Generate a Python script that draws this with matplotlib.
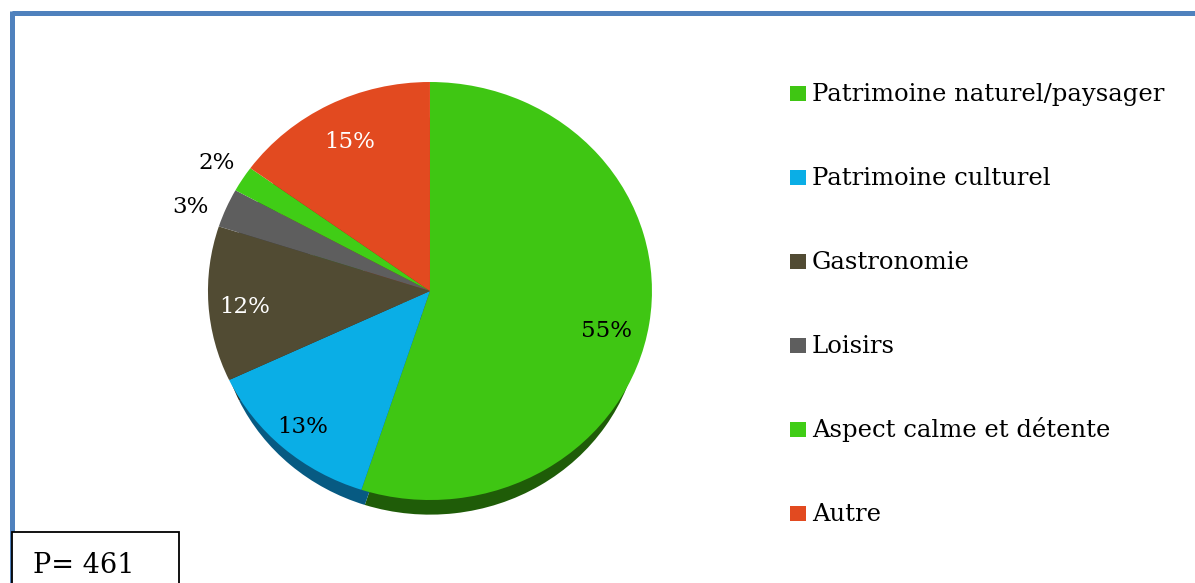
import matplotlib.pyplot as plt
from matplotlib.patches import Rectangle
from matplotlib.lines import Line2D
import numpy as np

# Données
categories = ["Patrimoine naturel/paysager", "Patrimoine culturel", "Gastronomie",
              "Loisirs", "Aspect calme et détente", "Autre"]
valeurs = [55, 13, 12, 3, 2, 15]
effectif = 461

couleurs = ["#3fc613", "#0aaee6", "#514b33", "#5e5e5e", "#40cd16", "#e24a20"]
ombres = ["#1f5c08", "#075a82", "#2c2a1c", "#333333", "#1f5c08", "#7a2810"]
couleurs_texte = ["black", "black", "white", "black", "black", "white"]
# placement des étiquettes : distance au centre et décalage angulaire (degrés)
distances = [0.82, 0.87, 0.84, 1.15, 1.14, 0.80]
decalages = [-4.5, 0.0, 1.6, 3.0, 0.0, 0.0]

plt.rcParams['font.family'] = ['DejaVu Serif']

fig = plt.figure(figsize=(11.95, 5.83), dpi=100)
ax = fig.add_axes([0.1183, 0.0348, 0.4830, 0.9321])

# Ombre (effet 3D) : camembert sombre un peu réduit et décalé vers le bas
ax.pie(valeurs, colors=ombres, startangle=90, counterclock=False, radius=0.95,
       center=(0, -0.12), wedgeprops=dict(linewidth=0))
wedges, _ = ax.pie(valeurs, colors=couleurs, startangle=90, counterclock=False,
                   wedgeprops=dict(linewidth=0))

# Étiquettes de pourcentage
total = sum(valeurs)
angle = 90.0
for v, d, dec, c in zip(valeurs, distances, decalages, couleurs_texte):
    span = 360.0 * v / total
    mid = np.deg2rad(angle - span / 2 + dec)
    ax.text(d * np.cos(mid), d * np.sin(mid), f"{v}%", ha="center", va="center",
            color=c, fontsize=16.5)
    angle -= span

ax.set_aspect("auto")
ax.set_xlim(-1.3, 1.3)
ax.set_ylim(-1.3, 1.3)
ax.axis("off")

# Légende
W, H = 1195.0, 583.0
y0, pas = 100.5, 84.1
for i, (lab, col) in enumerate(zip(categories, couleurs)):
    yb = y0 + i * pas
    fig.add_artist(Rectangle((790 / W, 1 - yb / H), 16 / W, 15 / H,
                             transform=fig.transFigure, color=col, lw=0))
    fig.text(812 / W, 1 - yb / H, lab, fontsize=17.5, va="baseline", ha="left")

# Cadre bleu
fig.add_artist(Line2D([12 / W, 1.0], [1 - 13 / H, 1 - 13 / H], color="#4f81bd",
                      lw=3.6, transform=fig.transFigure, solid_capstyle="butt"))
fig.add_artist(Line2D([12 / W, 12 / W], [0, 1 - 11 / H], color="#4f81bd",
                      lw=3.6, transform=fig.transFigure, solid_capstyle="butt"))

# Encadré effectif
fig.add_artist(Rectangle((12 / W, -0.02), 167 / W, 0.02 + 1 - 532 / H,
                         transform=fig.transFigure, facecolor="white",
                         edgecolor="black", lw=1.3, zorder=5))
fig.text(33 / W, 1 - 573 / H, f"P= {effectif}", fontsize=19.5, va="baseline",
         zorder=6)

fig.savefig("out.png", dpi=100)
